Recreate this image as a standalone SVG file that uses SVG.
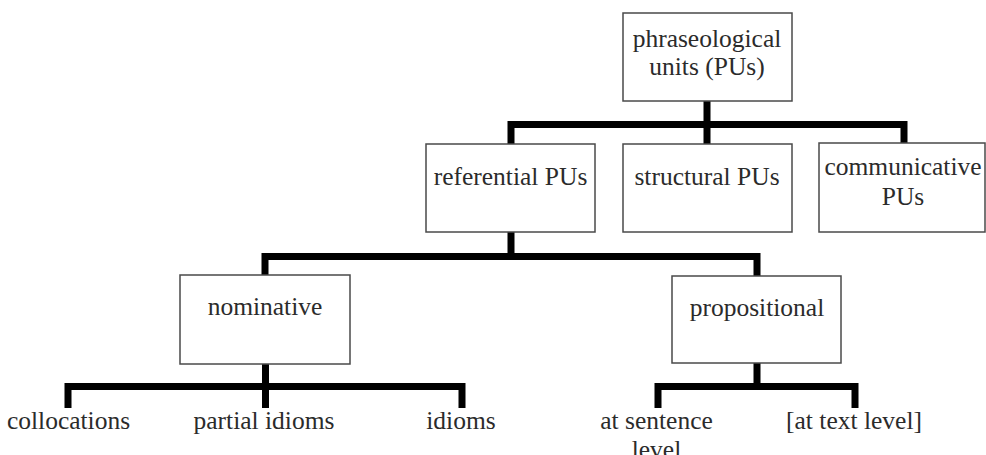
<svg xmlns="http://www.w3.org/2000/svg" width="986" height="455" viewBox="0 0 986 455">
<style>
.box{fill:#fff;stroke:#4a4a4a;stroke-width:1.5}
text{font-size:25.5px;fill:#2b2b2b;text-anchor:middle}
.c{fill:none;stroke:#000;stroke-width:7;stroke-linejoin:miter;stroke-linecap:butt}
</style>
<rect width="986" height="455" fill="#fff"/>
<g id="connectors">
<path class="c" d="M707 101V124.5M511 144V124.5H904V144M707 124.5V144"/>
<path class="c" d="M511 232V256.5M265 276V256.5H757V276"/>
<path class="c" d="M265.5 364V386.5M68 408V386.5H462V408M265.5 386.5V408"/>
<path class="c" d="M757 363V386.5M658 408V386.5H855V408"/>
</g>
<g font-family="Liberation Serif, DejaVu Serif, serif">
<g id="n-pus"><rect class="box" x="623" y="13" width="169" height="88"/><text x="707" y="47">phraseological</text><text x="707" y="75">units (PUs)</text></g>
<g id="n-referential"><rect class="box" x="426" y="144" width="169" height="88"/><text x="510.5" y="185">referential PUs</text></g>
<g id="n-structural"><rect class="box" x="623" y="144" width="169" height="88"/><text x="707" y="185">structural PUs</text></g>
<g id="n-communicative"><rect class="box" x="819" y="143" width="166" height="89"/><text x="903" y="175">communicative</text><text x="903" y="205">PUs</text></g>
<g id="n-nominative"><rect class="box" x="180" y="275" width="170" height="89"/><text x="265" y="315">nominative</text></g>
<g id="n-propositional"><rect class="box" x="672" y="276" width="169" height="87"/><text x="757" y="316">propositional</text></g>
<g id="n-collocations"><text x="68.5" y="429">collocations</text></g>
<g id="n-partial"><text x="264" y="429">partial idioms</text></g>
<g id="n-idioms"><text x="461" y="429">idioms</text></g>
<g id="n-sentence"><text x="656.5" y="429">at sentence</text><text x="656.5" y="458">level</text></g>
<g id="n-text"><text x="854" y="429">[at text level]</text></g>
</g>
</svg>
